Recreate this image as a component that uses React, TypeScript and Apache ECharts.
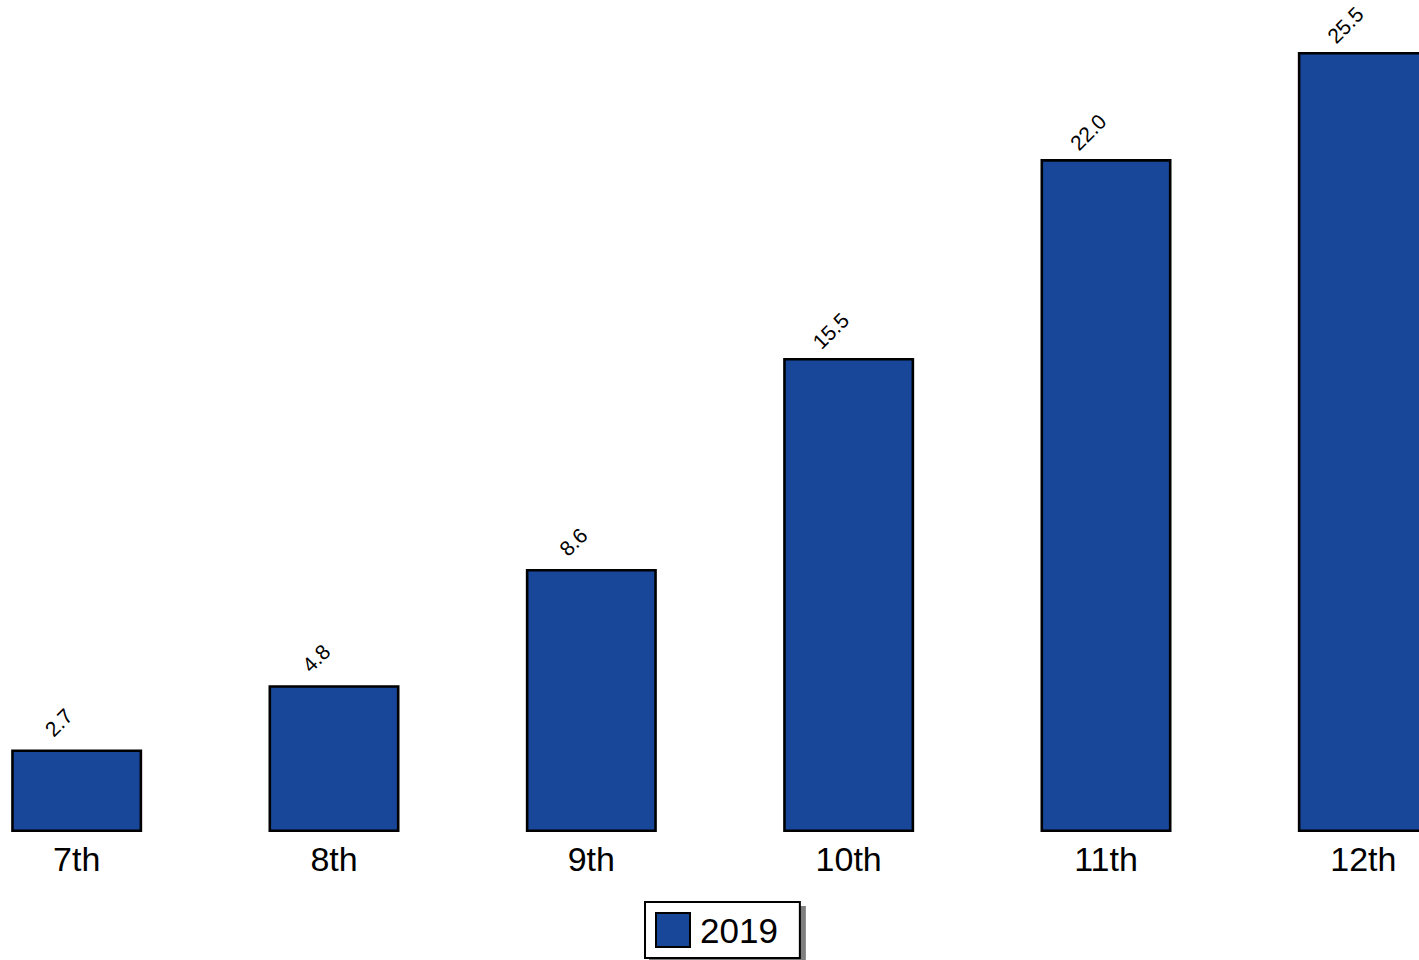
import React, { useEffect, useRef } from "react";
import * as echarts from "echarts";

const categories = ["7th", "8th", "9th", "10th", "11th", "12th"];
const values2019 = [2.7, 4.8, 8.6, 15.5, 22.0, 25.5];
const seriesName = "2019";

const FONT = "Liberation Sans, Arial, sans-serif";

export default function App() {
  const ref = useRef<HTMLDivElement>(null);
  useEffect(() => {
    if (!ref.current) return;
    const chart = echarts.init(ref.current, undefined, { renderer: "svg" });
    chart.setOption({
      animation: false,
      textStyle: { fontFamily: FONT },
      grid: { left: -52, width: 1544, top: 0, bottom: 128, outerBoundsMode: "none", containLabel: false },
      xAxis: {
        type: "category",
        data: categories,
        axisLine: { show: false },
        axisTick: { show: false },
        axisLabel: { color: "#000", fontSize: 34, margin: 10, fontFamily: FONT },
      },
      yAxis: {
        type: "value",
        min: 0,
        max: 27.2,
        show: false,
        splitLine: { show: false },
      },
      legend: {
        data: [seriesName],
        left: 645,
        bottom: 2,
        orient: "horizontal",
        icon: "rect",
        itemWidth: 34,
        itemHeight: 34,
        itemGap: 10,
        padding: [10, 22, 10, 10],
        backgroundColor: "#fff",
        borderColor: "#000",
        borderWidth: 2,
        borderRadius: 0,
        shadowColor: "rgba(0,0,0,0.5)",
        shadowBlur: 0,
        shadowOffsetX: 5,
        shadowOffsetY: 5,
        itemStyle: { color: "#18479a", borderColor: "#000", borderWidth: 2 },
        textStyle: { color: "#000", fontSize: 35, fontFamily: FONT, padding: [0, 0, 0, 5] },
      },
      series: [
        {
          name: seriesName,
          type: "bar",
          data: values2019,
          barWidth: 131,
          itemStyle: { color: "#18479a", borderColor: "#000", borderWidth: 2.6 },
          label: {
            show: true,
            position: "top",
            distance: 0,
            rotate: 45,
            align: "center",
            verticalAlign: "middle",
            offset: [6.4, -31.8],
            color: "#000",
            fontSize: 21,
            fontFamily: FONT,
            formatter: (p: any) => Number(p.value).toFixed(1),
          },
        },
      ],
    });
    return () => chart.dispose();
  }, []);
  return (
    <div
      ref={ref}
      style={{ position: "absolute", left: 0, top: 0, width: 1419, height: 960, background: "#fff" }}
    />
  );
}
